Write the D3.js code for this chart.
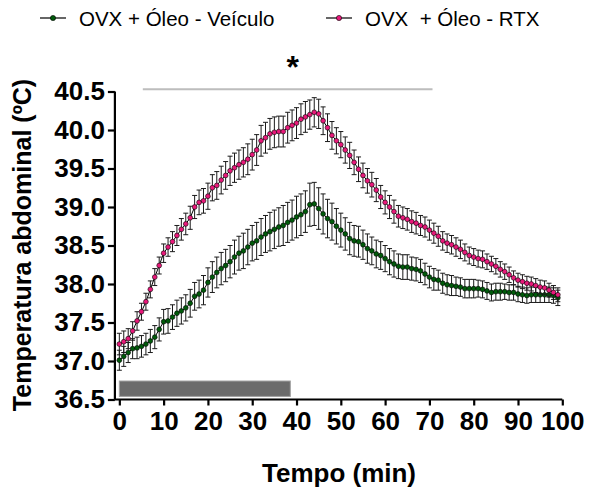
<!DOCTYPE html>
<html>
<head>
<meta charset="utf-8">
<script src="https://cdn.jsdelivr.net/npm/d3@7"></script>
<style>
  body { margin: 0; background: #fff; }
  svg { display: block; font-family: Arial, "Liberation Sans", sans-serif; }
</style>
</head>
<body>
<svg id="chart" width="589" height="493"></svg>
<script>
// minutes 0..99, one reading per minute
const minutes = d3.range(0, 100)

const vehicleMean = [
  37.01, 37.06, 37.11, 37.16, 37.17, 37.19, 37.22, 37.26, 37.31, 37.41,
  37.51, 37.52, 37.57, 37.62, 37.65, 37.69, 37.75, 37.84, 37.87, 37.92,
  38.02, 38.09, 38.15, 38.20, 38.24, 38.29, 38.35, 38.40, 38.43, 38.48,
  38.53, 38.56, 38.61, 38.65, 38.68, 38.71, 38.74, 38.76, 38.80, 38.83,
  38.87, 38.90, 38.94, 39.03, 39.04, 38.98, 38.91, 38.85, 38.81, 38.75,
  38.70, 38.65, 38.59, 38.56, 38.55, 38.51, 38.46, 38.43, 38.39, 38.37,
  38.33, 38.29, 38.26, 38.23, 38.22, 38.22, 38.20, 38.19, 38.17, 38.13,
  38.09, 38.06, 38.05, 38.01, 37.99, 37.98, 37.97, 37.96, 37.94, 37.94,
  37.94, 37.94, 37.93, 37.91, 37.89, 37.90, 37.90, 37.90, 37.89, 37.89,
  37.87, 37.86, 37.85, 37.86, 37.86, 37.86, 37.86, 37.86, 37.85, 37.82
]
const vehicleSem = [
  0.13, 0.13, 0.13, 0.13, 0.14, 0.14, 0.14, 0.15, 0.15, 0.15,
  0.16, 0.16, 0.16, 0.17, 0.17, 0.17, 0.18, 0.18, 0.18, 0.19,
  0.19, 0.20, 0.20, 0.21, 0.21, 0.21, 0.22, 0.22, 0.23, 0.23,
  0.23, 0.24, 0.24, 0.24, 0.25, 0.25, 0.25, 0.26, 0.26, 0.26,
  0.27, 0.27, 0.27, 0.28, 0.28, 0.27, 0.26, 0.25, 0.24, 0.23,
  0.22, 0.21, 0.21, 0.20, 0.20, 0.19, 0.19, 0.18, 0.18, 0.18,
  0.17, 0.17, 0.17, 0.16, 0.16, 0.16, 0.15, 0.15, 0.15, 0.14,
  0.14, 0.14, 0.13, 0.13, 0.13, 0.13, 0.12, 0.12, 0.12, 0.12,
  0.12, 0.11, 0.11, 0.11, 0.11, 0.11, 0.11, 0.10, 0.10, 0.10,
  0.10, 0.10, 0.10, 0.10, 0.10, 0.10, 0.10, 0.10, 0.10, 0.10
]

const rtxMean = [
  37.22, 37.25, 37.29, 37.39, 37.52, 37.64, 37.77, 37.93, 38.09, 38.24,
  38.40, 38.48, 38.55, 38.63, 38.71, 38.78, 38.86, 39.00, 39.06, 39.08,
  39.14, 39.25, 39.28, 39.35, 39.41, 39.47, 39.51, 39.55, 39.58, 39.62,
  39.68, 39.74, 39.86, 39.90, 39.95, 39.97, 39.98, 39.98, 40.03, 40.06,
  40.09, 40.14, 40.17, 40.20, 40.23, 40.21, 40.12, 40.03, 39.93, 39.86,
  39.81, 39.74, 39.67, 39.58, 39.49, 39.41, 39.34, 39.29, 39.22, 39.13,
  39.06, 39.00, 38.94, 38.88, 38.86, 38.84, 38.81, 38.79, 38.76, 38.74,
  38.70, 38.66, 38.62, 38.56, 38.53, 38.51, 38.48, 38.45, 38.41, 38.37,
  38.35, 38.33, 38.32, 38.29, 38.26, 38.23, 38.19, 38.16, 38.12, 38.08,
  38.05, 38.03, 38.01, 38.00, 37.98, 37.96, 37.95, 37.92, 37.89, 37.86
]
const rtxSem = [
  0.14, 0.14, 0.13, 0.12, 0.12, 0.11, 0.11, 0.11, 0.11, 0.11,
  0.12, 0.12, 0.13, 0.13, 0.14, 0.14, 0.15, 0.15, 0.16, 0.16,
  0.17, 0.17, 0.18, 0.18, 0.18, 0.19, 0.19, 0.19, 0.19, 0.20,
  0.20, 0.20, 0.20, 0.20, 0.20, 0.20, 0.20, 0.20, 0.20, 0.20,
  0.20, 0.20, 0.20, 0.19, 0.19, 0.19, 0.18, 0.18, 0.18, 0.17,
  0.17, 0.17, 0.17, 0.16, 0.16, 0.16, 0.16, 0.16, 0.15, 0.15,
  0.15, 0.15, 0.15, 0.14, 0.14, 0.14, 0.14, 0.14, 0.13, 0.13,
  0.13, 0.13, 0.13, 0.12, 0.12, 0.12, 0.12, 0.12, 0.11, 0.11,
  0.11, 0.11, 0.11, 0.10, 0.10, 0.10, 0.10, 0.10, 0.10, 0.09,
  0.09, 0.09, 0.09, 0.09, 0.09, 0.09, 0.09, 0.09, 0.09, 0.09
]

const xTicks = [0, 10, 20, 30, 40, 50, 60, 70, 80, 90, 100]
const yTicks = [36.5, 37.0, 37.5, 38.0, 38.5, 39.0, 39.5, 40.0, 40.5]
const infusionWindow = [0, 38.6]     // gray bar under the curves
const significantWindow = [5.3, 70.7] // line under the asterisk

const seriesNames = ['OVX + Óleo - Veículo', 'OVX  + Óleo - RTX']
const seriesColors = ['#005a0a', '#e8197a']

const series = [
  { name: seriesNames[0], color: seriesColors[0], mean: vehicleMean, sem: vehicleSem },
  { name: seriesNames[1], color: seriesColors[1], mean: rtxMean, sem: rtxSem }
]

const svg = d3.select('#chart')
const x = d3.scaleLinear().domain([-1, 100]).range([114.9, 562.3])
const y = d3.scaleLinear().domain([36.5, 40.5]).range([399.5, 91.5])

// infusion bar
svg.append('rect')
  .attr('x', x(infusionWindow[0]))
  .attr('y', y(36.74))
  .attr('width', x(infusionWindow[1]) - x(infusionWindow[0]))
  .attr('height', y(36.54) - y(36.74))
  .attr('fill', '#6b6b6b')
  .attr('stroke', '#a0a0a0')
  .attr('stroke-width', 1)

// significance marker
svg.append('line')
  .attr('x1', x(significantWindow[0])).attr('x2', x(significantWindow[1]))
  .attr('y1', y(40.53)).attr('y2', y(40.53))
  .attr('stroke', '#bdbdbd').attr('stroke-width', 2)
svg.append('text')
  .attr('x', x(d3.mean(significantWindow)) + 5)
  .attr('y', 78)
  .attr('text-anchor', 'middle')
  .attr('font-size', 32).attr('font-weight', 'bold')
  .text('*')

// axes
const yAxis = svg.append('g')
  .attr('transform', `translate(${x(-1)},0)`)
  .call(d3.axisLeft(y).tickValues(yTicks).tickFormat(d3.format('.1f')).tickSize(7).tickPadding(3))
const xAxis = svg.append('g')
  .attr('transform', `translate(0,${y(36.5)})`)
  .call(d3.axisBottom(x).tickValues(xTicks).tickSize(6).tickPadding(6))

for (const g of [xAxis, yAxis]) {
  g.select('.domain').attr('stroke', '#000').attr('stroke-width', 2.2)
  g.selectAll('.tick line').attr('stroke', '#000').attr('stroke-width', 2.2)
  g.selectAll('.tick text')
    .attr('fill', '#000')
    .attr('font-size', 26)
    .attr('font-weight', 'bold')
    .attr('font-family', 'Arial, "Liberation Sans", sans-serif')
}
// domain path without outer ticks
yAxis.select('.domain').attr('d', `M0,${y(40.5)}V${y(36.5)}`)
xAxis.select('.domain').attr('d', `M${x(-1)},0H${x(100)}`)

// series
const line = d3.line().x((d) => x(d.t)).y((d) => y(d.v))
series.forEach((s) => {
  const pts = minutes.map((t, i) => ({ t, v: s.mean[i], e: s.sem[i] }))
  const g = svg.append('g')
  const bars = g.append('g').attr('stroke', '#1a1a1a').attr('stroke-width', 1)
  pts.forEach((d) => {
    const cx = x(d.t)
    bars.append('line').attr('x1', cx).attr('x2', cx).attr('y1', y(d.v - d.e)).attr('y2', y(d.v + d.e))
    bars.append('line').attr('x1', cx - 2.5).attr('x2', cx + 2.5).attr('y1', y(d.v + d.e)).attr('y2', y(d.v + d.e))
    bars.append('line').attr('x1', cx - 2.5).attr('x2', cx + 2.5).attr('y1', y(d.v - d.e)).attr('y2', y(d.v - d.e))
  })
  g.append('path').datum(pts).attr('d', line)
    .attr('fill', 'none').attr('stroke', '#000').attr('stroke-width', 1)
  g.selectAll('circle').data(pts).enter().append('circle')
    .attr('cx', (d) => x(d.t)).attr('cy', (d) => y(d.v)).attr('r', 2.4)
    .attr('fill', s.color).attr('stroke', '#000').attr('stroke-width', 0.6)
})

// titles
svg.append('text')
  .attr('transform', 'translate(31,245) rotate(-90)')
  .attr('text-anchor', 'middle')
  .attr('font-size', 25).attr('font-weight', 'bold')
  .text('Temperatura abdominal (ºC)')
svg.append('text')
  .attr('x', 339).attr('y', 482)
  .attr('text-anchor', 'middle')
  .attr('font-size', 26).attr('font-weight', 'bold')
  .text('Tempo (min)')

// legend
const legendX = [40, 326]
series.forEach((s, i) => {
  const lg = svg.append('g').attr('transform', `translate(${legendX[i]},18)`)
  lg.append('line').attr('x1', 0).attr('x2', 26).attr('stroke', '#000').attr('stroke-width', 1.2)
  lg.append('circle').attr('cx', 13).attr('r', 2.6).attr('fill', s.color).attr('stroke', '#000').attr('stroke-width', 0.6)
  lg.append('text').attr('x', 39).attr('y', 7.5).attr('font-size', 20.5)
    .style('white-space', 'pre').text(s.name)
})
</script>
</body>
</html>
